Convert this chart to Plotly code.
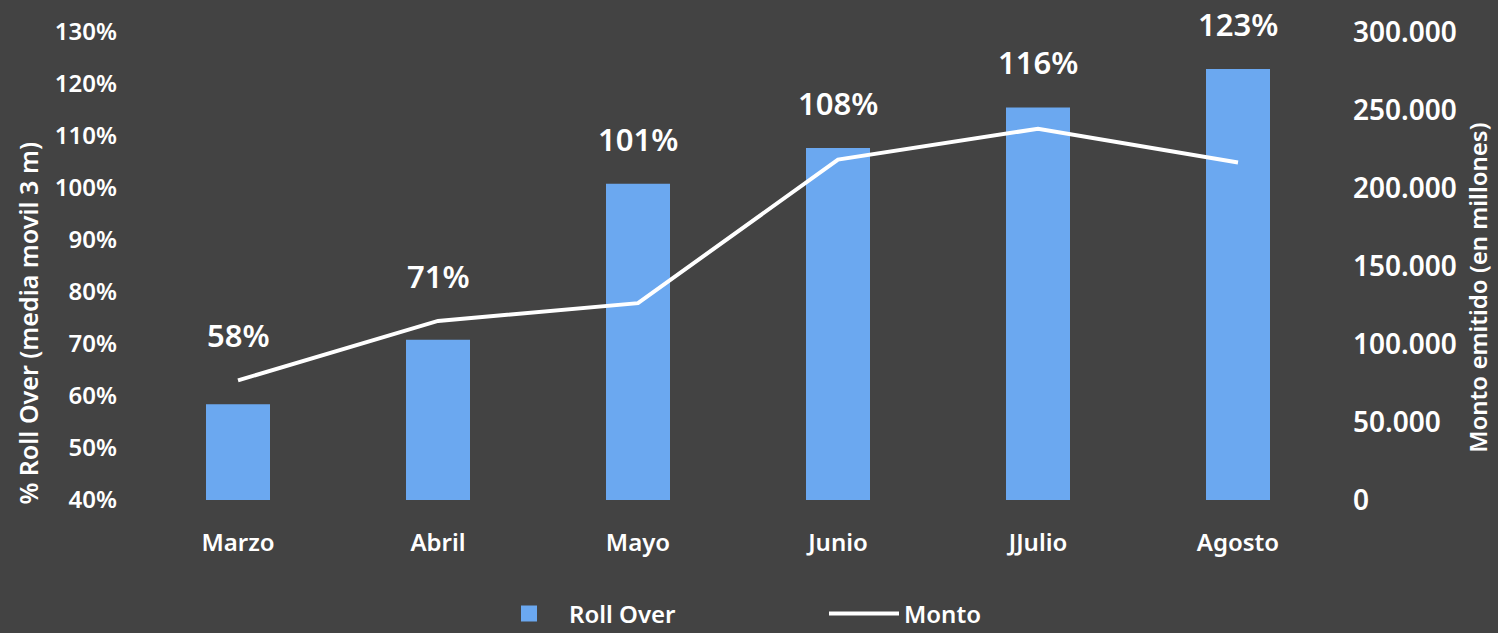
import plotly.graph_objects as go

months = ["Marzo", "Abril", "Mayo", "Junio", "JJulio", "Agosto"]
roll_over = [58.4, 70.8, 100.8, 107.7, 115.5, 122.9]
monto = [76700, 114800, 126200, 218200, 238000, 216300]
left_ticks = [40, 50, 60, 70, 80, 90, 100, 110, 120, 130]
right_ticks = [0, 50000, 100000, 150000, 200000, 250000, 300000]

BG = "#434343"
BAR = "#6ba8f0"
FONT = "Noto Sans"

fig = go.Figure()
fig.add_trace(go.Bar(
    x=months, y=[v - 40 for v in roll_over], base=40, name="Roll Over",
    marker=dict(color=BAR, line=dict(width=0)), width=0.32, yaxis="y",
    showlegend=False,
))
# legend-only entry for the bars (bigger swatch)
fig.add_trace(go.Scatter(
    x=[None], y=[None], name="Roll Over", mode="markers",
    marker=dict(color=BAR, symbol="square", size=28), yaxis="y",
))
fig.add_trace(go.Scatter(
    x=months, y=monto, name="Monto", mode="lines",
    line=dict(color="white", width=4), yaxis="y2",
))

# value labels sit above the higher of bar / line
for m, r, v in zip(months, roll_over, monto):
    line_left = 40 + v / 300000 * 90
    fig.add_annotation(
        x=m, y=max(r, line_left), xref="x", yref="y", yanchor="bottom",
        yshift=22, text=f"{round(r)}%", showarrow=False,
        font=dict(family=FONT, size=31, color="white", weight=600),
    )

fig.add_annotation(text="% Roll Over (media movil 3 m)", textangle=-90,
                   xref="paper", yref="paper", x=-0.0917, y=0.379,
                   xanchor="center", yanchor="middle", showarrow=False,
                   font=dict(family=FONT, size=25, color="white", weight=600))
fig.add_annotation(text="Monto emitido (en millones)", textangle=-90,
                   xref="paper", yref="paper", x=1.1165, y=0.453,
                   xanchor="center", yanchor="middle", showarrow=False,
                   font=dict(family=FONT, size=24, color="white", weight=600))

fig.update_layout(
    width=1498, height=633,
    paper_bgcolor=BG, plot_bgcolor=BG,
    margin=dict(l=138, r=160, t=25, b=133),
    separators=",.",
    font=dict(family=FONT, color="white"),
    showlegend=True,
    legend=dict(orientation="h", xref="paper", x=0.2925, xanchor="left",
                yref="container", y=0.03, yanchor="middle",
                entrywidth=250, itemwidth=70, itemsizing="trace",
                font=dict(family=FONT, size=24, color="white", weight=600)),
    xaxis=dict(showgrid=False, zeroline=False, showline=False, ticks="",
               ticklabelstandoff=26,
               tickfont=dict(family=FONT, size=24, color="white", weight=600)),
    yaxis=dict(range=[40, 130], tickvals=left_ticks,
               ticktext=[f"{v}%" for v in left_ticks],
               showgrid=False, zeroline=False, showline=False, ticks="",
               ticklabelstandoff=20,
               tickfont=dict(family=FONT, size=24, color="white", weight=600)),
    yaxis2=dict(range=[0, 300000], tickvals=right_ticks, tickformat=",.0f",
                overlaying="y", side="right",
                showgrid=False, zeroline=False, showline=False, ticks="",
                ticklabelstandoff=14,
                tickfont=dict(family=FONT, size=28, color="white", weight=600)),
)

fig.write_html("out.html", config={"displayModeBar": False},
               post_script="document.body.style.margin='0';")
